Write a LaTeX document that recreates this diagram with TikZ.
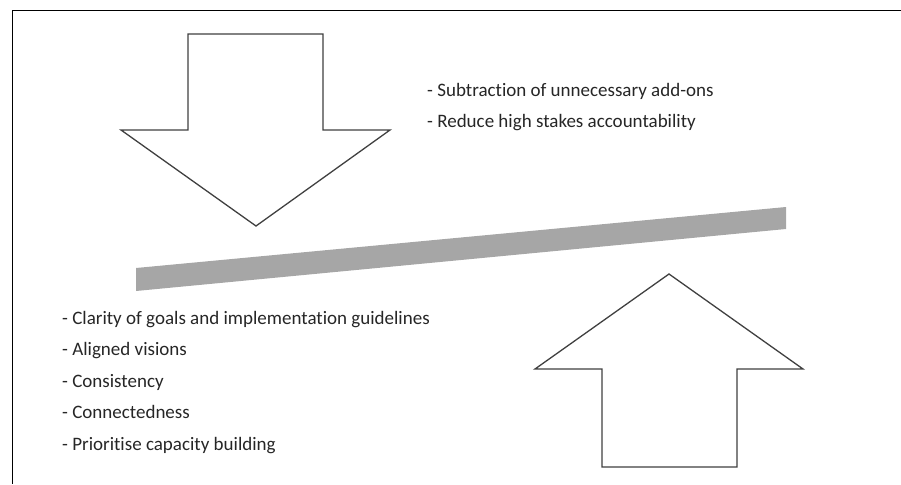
\documentclass[tikz,border=0pt]{standalone}
\usepackage{fontspec}
\setmainfont{Carlito}[Ligatures=NoCommon]
\begin{document}
\begin{tikzpicture}[x=1pt,y=-1pt,
  outline/.style={draw=black!75,line width=1.3pt,line join=miter,fill=white},
  frameline/.style={draw=black,line width=1.4pt},
  lever/.style={fill=black!35,draw=none},
  item/.style={anchor=mid west,inner sep=0pt,font=\fontsize{19}{22}\selectfont,text=black!85}]
  \useasboundingbox (0,0) rectangle (901,484);
  % frame: top edge and left edge
  \draw[frameline] (901,10.5) -- (12.5,10.5) -- (12.5,484);
  % block arrow pressing down
  \draw[outline] (188,34) -- (323,34) -- (323,130) -- (390,130) -- (256,226)
    -- (121,130) -- (188,130) -- cycle;
  % block arrow pushing up
  \draw[outline] (602,467) -- (737,467) -- (737,369) -- (803,369) -- (669,274)
    -- (535,369) -- (602,369) -- cycle;
  % tilted lever bar
  \fill[lever] (136,268) -- (786,207) -- (786,229) -- (136,291) -- cycle;
  % upper list
  \node[item] (s1) at (427,94) {- Subtraction of unnecessary add-ons};
  \node[item] (s2) at (427,125) {- Reduce high stakes accountability};
  % lower list
  \node[item] (p1) at (62,322) {- Clarity of goals and implementation guidelines};
  \node[item] (p2) at (62,353) {- Aligned visions};
  \node[item] (p3) at (62,385) {- Consistency};
  \node[item] (p4) at (62,416) {- Connectedness};
  \node[item] (p5) at (62,448) {- Prioritise capacity building};
\end{tikzpicture}
\end{document}
